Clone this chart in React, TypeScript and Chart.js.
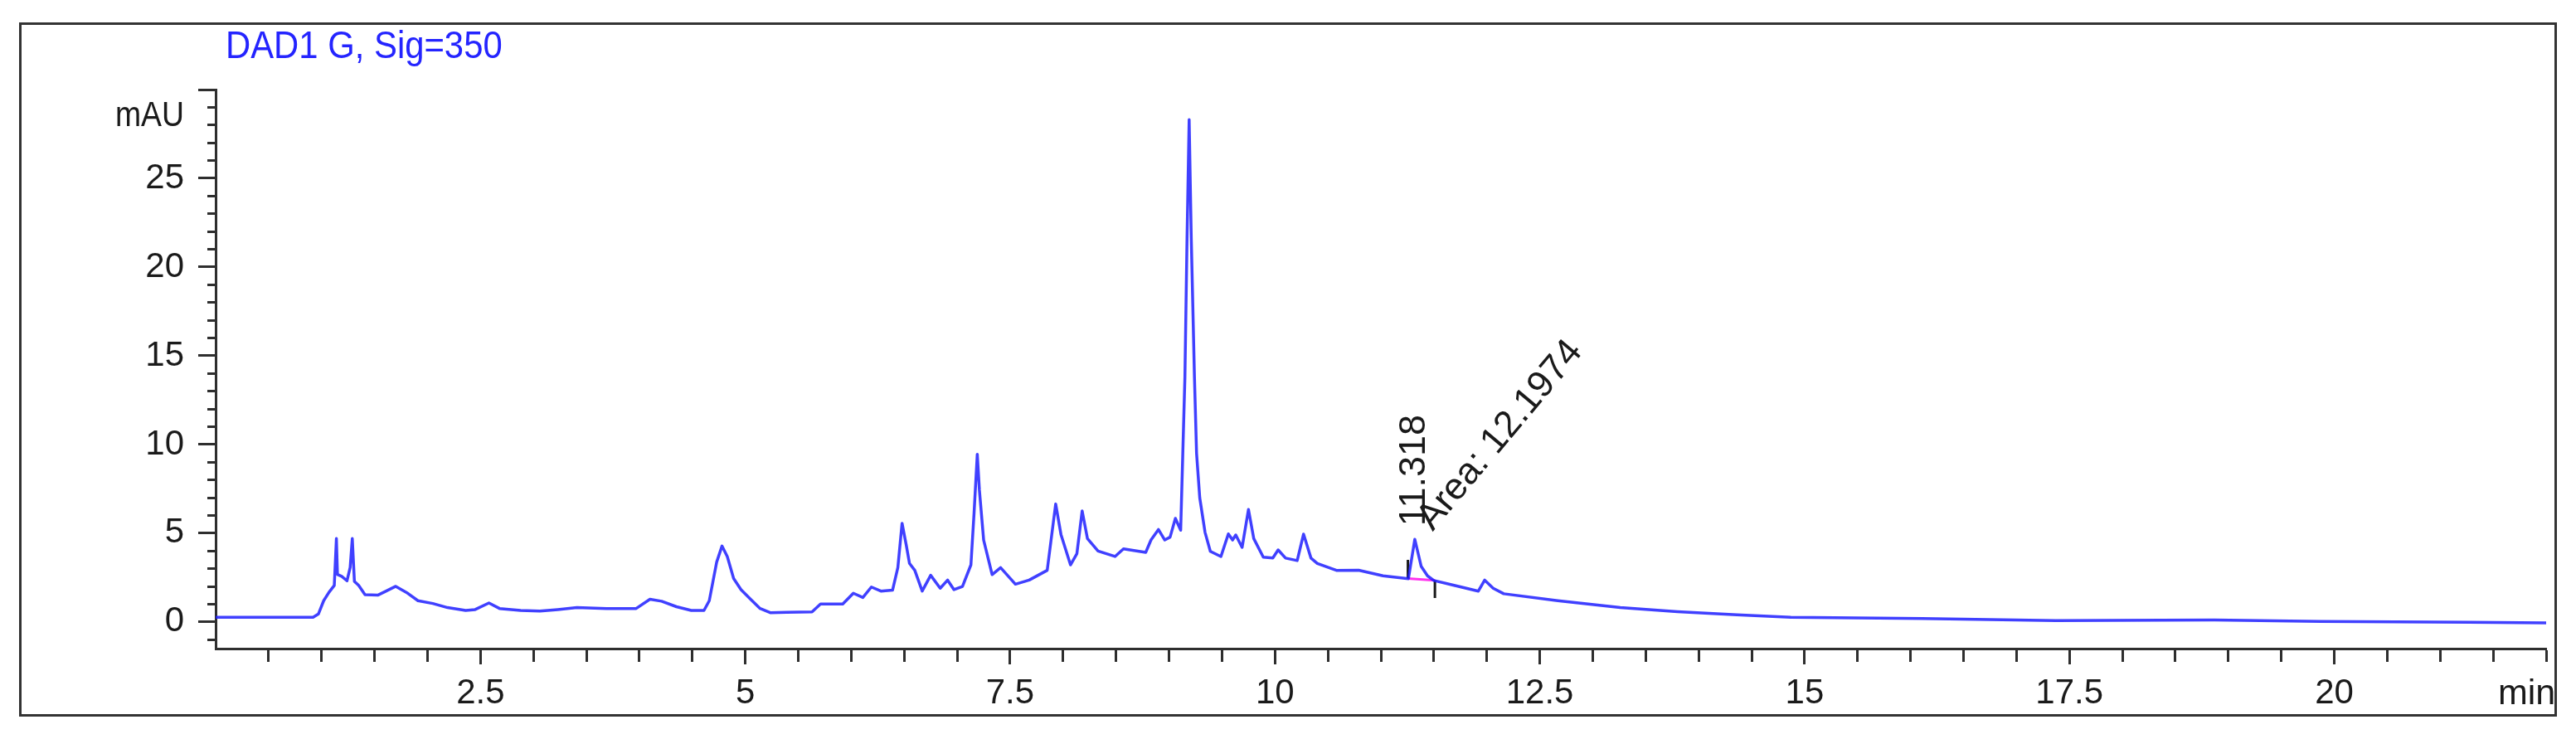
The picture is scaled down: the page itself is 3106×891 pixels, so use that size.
import { useEffect, useRef } from "react";
import { Chart, registerables } from "chart.js";

Chart.register(...registerables);

// ---- data ----
const retentionTimes = [
  0.0, 0.92, 0.97, 1.02, 1.07, 1.12, 1.14, 1.15, 1.19, 1.24, 1.27, 1.29, 1.31, 1.35, 1.41, 1.53, 1.61, 1.7, 1.8, 1.91,
  2.05, 2.19, 2.36, 2.45, 2.58, 2.68, 2.88, 3.06, 3.23, 3.41, 3.69, 3.97, 4.1, 4.21, 4.35, 4.49, 4.61, 4.66, 4.73, 4.78,
  4.83, 4.89, 4.96, 5.05, 5.14, 5.24, 5.39, 5.63, 5.71, 5.92, 6.02, 6.11, 6.19, 6.28, 6.39, 6.44, 6.48, 6.52, 6.55, 6.6,
  6.67, 6.75, 6.84, 6.91, 6.97, 7.05, 7.13, 7.16, 7.19, 7.21, 7.25, 7.33, 7.41, 7.55, 7.68, 7.85, 7.93, 7.98, 8.07, 8.13,
  8.18, 8.23, 8.33, 8.49, 8.57, 8.78, 8.83, 8.9, 8.96, 9.01, 9.06, 9.11, 9.13, 9.15, 9.17, 9.19, 9.21, 9.24, 9.26, 9.29,
  9.34, 9.39, 9.49, 9.56, 9.6, 9.63, 9.69, 9.75, 9.8, 9.89, 9.98, 10.03, 10.1, 10.21, 10.27, 10.34, 10.4, 10.58, 10.79, 11.02,
  11.26, 11.32, 11.38, 11.44, 11.5, 11.7, 11.92, 11.98, 12.06, 12.16, 12.67, 13.26, 13.8, 14.36, 14.87, 16.11, 17.37, 18.87, 19.87, 21.27,
  22.0,
];
const absorbance = [
  0.27, 0.27, 0.45, 1.2, 1.67, 2.06, 4.7, 2.68, 2.57, 2.32, 3.07, 4.7, 2.29, 2.06, 1.54, 1.51, 1.74, 2.01, 1.67, 1.2,
  1.04, 0.81, 0.65, 0.7, 1.07, 0.76, 0.65, 0.61, 0.7, 0.81, 0.76, 0.76, 1.28, 1.17, 0.86, 0.65, 0.65, 1.2, 3.38, 4.28,
  3.69, 2.45, 1.82, 1.28, 0.76, 0.52, 0.55, 0.57, 1.01, 1.01, 1.62, 1.38, 1.97, 1.74, 1.79, 3.06, 5.56, 4.31, 3.3, 2.91,
  1.74, 2.63, 1.9, 2.36, 1.82, 2.0, 3.22, 6.18, 9.45, 7.43, 4.62, 2.67, 3.06, 2.13, 2.36, 2.91, 6.65, 4.93, 3.22, 3.84,
  6.26, 4.7, 4.0, 3.69, 4.12, 3.92, 4.62, 5.21, 4.62, 4.78, 5.84, 5.17, 9.5, 13.8, 21.6, 28.3, 21.6, 13.8, 9.5, 7.0,
  5.05, 3.98, 3.69, 4.96, 4.62, 4.9, 4.2, 6.34, 4.7, 3.65, 3.61, 4.06, 3.6, 3.46, 4.95, 3.6, 3.3, 2.91, 2.92, 2.6,
  2.44, 4.66, 3.14, 2.6, 2.34, 2.05, 1.74, 2.36, 1.9, 1.59, 1.2, 0.81, 0.58, 0.4, 0.27, 0.19, 0.08, 0.11, 0.03, -0.02,
  -0.05,
];

// integrated peak annotation
const peakTime = 11.318;
const peakHeight = 4.66;
const peakTimeLabel = "11.318";
const peakAreaLabel = "Area: 12.1974";
const baselineTimes = [11.255, 11.51];
const baselineValues = [2.45, 2.34];
const startMarkTimes = [11.255, 11.255];
const startMarkValues = [2.45, 3.5];
const endMarkTimes = [11.51, 11.51];
const endMarkValues = [2.34, 1.35];

// axes
const xMin = 0;
const xMax = 22;
const xMinorStep = 0.5;
const xMajorStep = 2.5;
const yMin = -1.5;
const yMax = 30;
const yMinorStep = 1;
const yMajorStep = 5;

const titleText = "DAD1 G, Sig=350";
const yUnitText = "mAU";
const xUnitText = "min";

const FONT = "'Liberation Sans', Arial, Helvetica, sans-serif";
const AXIS_COLOR = "#2e2e2e";
const TRACE_COLOR = "rgba(30,30,255,0.85)";

const isMultiple = (v: number, step: number) => Math.abs(v / step - Math.round(v / step)) < 1e-6;

const toPoints = (xs: number[], ys: number[]) => xs.map((x, i) => ({ x, y: ys[i] }));

function drawScaledText(
  ctx: CanvasRenderingContext2D,
  text: string,
  x: number,
  y: number,
  size: number,
  sx: number,
  color: string,
  align: CanvasTextAlign,
  baseline: CanvasTextBaseline,
  angle = 0
) {
  ctx.save();
  ctx.translate(x, y);
  if (angle) ctx.rotate(angle);
  ctx.scale(sx, 1);
  ctx.font = `${size}px ${FONT}`;
  ctx.fillStyle = color;
  ctx.textAlign = align;
  ctx.textBaseline = baseline;
  ctx.fillText(text, 0, 0);
  ctx.restore();
}

const textPlugin = {
  id: "chromTexts",
  afterDraw(chart: any) {
    const { ctx, chartArea } = chart;
    const xs = chart.scales.x;
    const ys = chart.scales.y;
    // title
    drawScaledText(ctx, titleText, chartArea.left + 12, 27, 47, 0.89, "#2424ff", "left", "middle");
    // unit labels
    drawScaledText(ctx, yUnitText, chartArea.left - 38, chartArea.top + 32, 42, 0.89, "#1a1a1a", "right", "middle");
    drawScaledText(ctx, xUnitText, chartArea.right - 58, chartArea.bottom + 55, 43, 1, "#1a1a1a", "left", "middle");
    // peak annotations
    const px = xs.getPixelForValue(peakTime);
    const py = ys.getPixelForValue(peakHeight);
    drawScaledText(ctx, peakTimeLabel, px, py - 16, 45, 1, "#1a1a1a", "left", "middle", -Math.PI / 2);
    drawScaledText(ctx, peakAreaLabel, px + 22, py - 9, 45, 1, "#1a1a1a", "left", "alphabetic", (-50 * Math.PI) / 180);
  },
};

export default function App() {
  const canvasRef = useRef<HTMLCanvasElement | null>(null);

  useEffect(() => {
    const canvas = canvasRef.current;
    if (!canvas) return;
    const chart = new Chart(canvas, {
      type: "line",
      data: {
        datasets: [
          {
            label: "baseline",
            data: toPoints(baselineTimes, baselineValues),
            borderColor: "#ff33ee",
            borderWidth: 3,
            pointRadius: 0,
            order: 3,
          },
          {
            label: "start",
            data: toPoints(startMarkTimes, startMarkValues),
            borderColor: "#1a1a1a",
            borderWidth: 3,
            pointRadius: 0,
            order: 2,
          },
          {
            label: "end",
            data: toPoints(endMarkTimes, endMarkValues),
            borderColor: "#1a1a1a",
            borderWidth: 3,
            pointRadius: 0,
            order: 2,
          },
          {
            label: "DAD1 G",
            data: toPoints(retentionTimes, absorbance),
            borderColor: TRACE_COLOR,
            borderWidth: 3.5,
            borderJoinStyle: "round",
            pointRadius: 0,
            tension: 0,
            order: 1,
          },
        ],
      },
      options: {
        animation: false,
        responsive: false,
        maintainAspectRatio: false,
        devicePixelRatio: 1,
        layout: { padding: { top: 78, left: 0, right: 0, bottom: 0 } },
        plugins: {
          legend: { display: false },
          tooltip: { enabled: false },
          title: { display: false },
        },
        scales: {
          x: {
            type: "linear",
            min: xMin,
            max: xMax,
            afterFit: (scale: any) => {
              scale.height = 79;
            },
            border: { display: true, color: AXIS_COLOR, width: 3 },
            grid: {
              display: true,
              drawOnChartArea: false,
              drawTicks: true,
              tickLength: 19,
              tickWidth: 3,
              tickColor: (c: any) => (c.tick && c.tick.value === xMin ? "rgba(0,0,0,0)" : AXIS_COLOR),
              tickBorderDash: (c: any) => (c.tick && isMultiple(c.tick.value, xMajorStep) ? [] : [14, 200]),
            },
            ticks: {
              stepSize: xMinorStep,
              autoSkip: false,
              maxRotation: 0,
              minRotation: 0,
              includeBounds: false,
              padding: 10,
              color: "#1a1a1a",
              font: { family: FONT, size: 42 },
              callback: (v: any) => {
                const n = Number(v);
                return n !== xMin && isMultiple(n, xMajorStep) ? String(n) : "";
              },
            },
          },
          y: {
            type: "linear",
            min: yMin,
            max: yMax,
            afterFit: (scale: any) => {
              scale.width = 234;
            },
            border: { display: true, color: AXIS_COLOR, width: 3 },
            grid: {
              display: true,
              drawOnChartArea: false,
              drawTicks: true,
              tickLength: 21,
              tickWidth: 3,
              tickColor: AXIS_COLOR,
              tickBorderDash: (c: any) => (c.tick && isMultiple(c.tick.value, yMajorStep) ? [] : [0, 11, 10, 200]),
            },
            ticks: {
              stepSize: yMinorStep,
              autoSkip: false,
              includeBounds: false,
              padding: 17,
              color: "#1a1a1a",
              font: { family: FONT, size: 42 },
              callback: (v: any) => {
                const n = Number(v);
                return n < yMax && isMultiple(n, yMajorStep) ? String(n) : "";
              },
            },
          },
        },
      },
      plugins: [textPlugin],
    } as any);
    return () => chart.destroy();
  }, []);

  return (
    <div
      style={{
        position: "absolute",
        left: 23,
        top: 27,
        width: 3060,
        height: 837,
        border: "3px solid #333",
        boxSizing: "border-box",
        overflow: "hidden",
        background: "#fff",
      }}
    >
      <canvas ref={canvasRef} width={3054} height={831} style={{ display: "block" }} />
    </div>
  );
}
